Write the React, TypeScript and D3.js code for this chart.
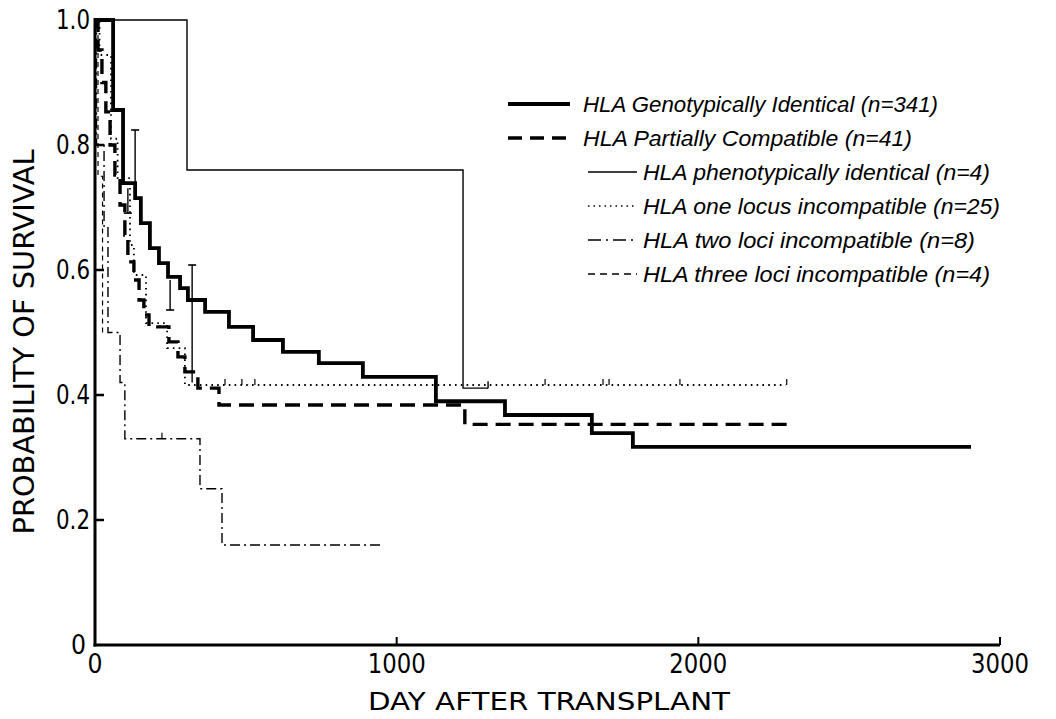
import React from "react";
import * as d3 from "d3";

// ---- Data (day after transplant, probability of survival) ----
const genoDays = [0, 60, 93, 133, 152, 182, 212, 242, 282, 308, 365, 444, 524, 623, 742, 888, 1130, 1359, 1647, 1783, 2904];
const genoProb = [1.0, 0.856, 0.739, 0.715, 0.675, 0.635, 0.611, 0.589, 0.571, 0.552, 0.533, 0.509, 0.488, 0.469, 0.451, 0.429, 0.39, 0.368, 0.339, 0.317, 0.317];

const partDays = [0, 10, 23, 36, 50, 66, 83, 99, 109, 129, 146, 162, 179, 245, 275, 298, 341, 411, 1226, 2304];
const partProb = [1.0, 0.952, 0.9, 0.853, 0.8, 0.752, 0.704, 0.656, 0.613, 0.584, 0.552, 0.528, 0.509, 0.485, 0.461, 0.437, 0.411, 0.384, 0.353, 0.353];

const phenoDays = [0, 305, 1220, 1303];
const phenoProb = [1.0, 0.76, 0.411, 0.411];

const oneDays = [0, 15, 53, 75, 116, 129, 169, 239, 298, 2290];
const oneProb = [1.0, 0.944, 0.81, 0.747, 0.64, 0.592, 0.515, 0.475, 0.416, 0.416];

const twoDays = [0, 5, 30, 43, 83, 99, 348, 421, 958];
const twoProb = [1.0, 0.8, 0.67, 0.5, 0.42, 0.33, 0.25, 0.16, 0.16];

const threeDays = [0, 10, 25, 35];
const threeProb = [1.0, 0.75, 0.5, 0.5];

// censoring ticks
const oneCensorDays = [431, 487, 530, 1492, 1684, 1704, 1939, 2293];
const twoCensorDays = [222];
const phenoCensorDays = [1303];

// error bars: day, low, high, cap at "top" or "bottom"
const errDays = [133, 322, 109, 249];
const errLow = [0.739, 0.42, 0.691, 0.536];
const errHigh = [0.824, 0.608, 0.731, 0.584];
const errCap = ["top", "top", "bottom", "bottom"];

const xTicks = [0, 1000, 2000, 3000];
const yTicks = [0, 0.2, 0.4, 0.6, 0.8, 1.0];
const yTickLabels = ["0", "0.2", "0.4", "0.6", "0.8", "1.0"];

const legendNames = [
  "HLA Genotypically Identical (n=341)",
  "HLA Partially Compatible (n=41)",
  "HLA phenotypically identical (n=4)",
  "HLA one locus incompatible (n=25)",
  "HLA two loci incompatible (n=8)",
  "HLA three loci incompatible (n=4)",
];

const W = 1056;
const H = 719;

export default function App() {
  const x = d3.scaleLinear().domain([0, 3000]).range([95, 1000]);
  const y = d3.scaleLinear().domain([0, 1]).range([645, 20]);
  const line = d3
    .line<[number, number]>()
    .x((d) => x(d[0]))
    .y((d) => y(d[1]))
    .curve(d3.curveStepAfter);
  const pts = (ds: number[], ps: number[]) => ds.map((d, i) => [d, ps[i]] as [number, number]);

  const series = [
    { d: pts(genoDays, genoProb), sw: 3.8, dash: "", lw: 3.8, ldash: "" },
    { d: pts(partDays, partProb), sw: 3.4, dash: "15 8", lw: 3.4, ldash: "14 8" },
    { d: pts(phenoDays, phenoProb), sw: 1.4, dash: "", lw: 1.4, ldash: "" },
    { d: pts(oneDays, oneProb), sw: 1.8, dash: "1.6 4.2", lw: 1.6, ldash: "1.5 4" },
    { d: pts(twoDays, twoProb), sw: 1.4, dash: "10 4 2 4", lw: 1.4, ldash: "13 5 2 5" },
    { d: pts(threeDays, threeProb), sw: 1.2, dash: "5 4", lw: 1.3, ldash: "7 5" },
  ];

  const legendY = [104, 138, 172, 206, 240, 274];
  const legendX1 = [508, 508, 588, 588, 588, 588];
  const legendX2 = [570, 570, 637, 637, 637, 637];
  const legendTX = [583, 583, 643, 643, 643, 643];
  const legendTL = [355, 329, 347, 357, 332, 347];

  const font = "'Liberation Sans', Arial, sans-serif";

  return (
    <svg
      width={W}
      height={H}
      style={{ position: "absolute", left: 0, top: 0, background: "#fff" }}
      fontFamily={font}
    >
      <rect x={0} y={0} width={W} height={H} fill="#fff" />

      {/* axes */}
      <line x1={x(0)} x2={x(0)} y1={y(1) - 2} y2={y(0) + 1.5} stroke="#000" strokeWidth={3} />
      <line x1={x(0) - 1.5} x2={x(3000)} y1={y(0)} y2={y(0)} stroke="#000" strokeWidth={3} />
      {yTicks.map((t, i) => (
        <g key={"yt" + i}>
          {t > 0 && (
            <line x1={x(0)} x2={x(0) + 9} y1={y(t)} y2={y(t)} stroke="#000" strokeWidth={2.5} />
          )}
          <text
            x={t === 0 ? 86 : 90}
            y={y(t) + 9}
            textAnchor="end"
            fontSize={27}
            fontFamily="'DejaVu Sans', sans-serif"
            textLength={t === 0 ? 15 : 34}
            lengthAdjust="spacingAndGlyphs"
          >
            {yTickLabels[i]}
          </text>
        </g>
      ))}
      {xTicks.map((t, i) => (
        <g key={"xt" + i}>
          {t > 0 && <line x1={x(t)} x2={x(t)} y1={y(0)} y2={y(0) - 8} stroke="#000" strokeWidth={2} />}
          <text
            x={x(t)}
            y={y(0) + 28}
            textAnchor="middle"
            fontSize={27}
            fontFamily="'DejaVu Sans', sans-serif"
            textLength={t === 0 ? 15 : 58}
            lengthAdjust="spacingAndGlyphs"
          >
            {t}
          </text>
        </g>
      ))}
      <text
        x={549}
        y={710}
        textAnchor="middle"
        fontSize={25}
        fontFamily="'DejaVu Sans', sans-serif"
        textLength={362}
        lengthAdjust="spacingAndGlyphs"
      >
        DAY AFTER TRANSPLANT
      </text>
      <text
        transform={`translate(34, 342) rotate(-90)`}
        textAnchor="middle"
        fontSize={28}
        fontFamily="'DejaVu Sans', sans-serif"
        textLength={385}
        lengthAdjust="spacingAndGlyphs"
      >
        PROBABILITY OF SURVIVAL
      </text>

      {/* curves */}
      {series.map((s, i) => (
        <path
          key={"s" + i}
          d={line(s.d) || ""}
          fill="none"
          stroke="#000"
          strokeWidth={s.sw}
          strokeDasharray={s.dash || undefined}
          strokeLinejoin="miter"
        />
      ))}

      {/* censor ticks */}
      {oneCensorDays.map((d, i) => (
        <line key={"c1" + i} x1={x(d)} x2={x(d)} y1={y(0.416)} y2={y(0.416) - 6} stroke="#000" strokeWidth={1.2} />
      ))}
      {twoCensorDays.map((d, i) => (
        <line key={"c2" + i} x1={x(d)} x2={x(d)} y1={y(0.33)} y2={y(0.33) - 6} stroke="#000" strokeWidth={1.2} />
      ))}
      {phenoCensorDays.map((d, i) => (
        <line key={"c3" + i} x1={x(d)} x2={x(d)} y1={y(0.411)} y2={y(0.411) - 7} stroke="#000" strokeWidth={1.4} />
      ))}

      {/* error bars */}
      {errDays.map((d, i) => {
        const capY = errCap[i] === "top" ? y(errHigh[i]) : y(errLow[i]);
        return (
          <g key={"e" + i}>
            <line x1={x(d)} x2={x(d)} y1={y(errLow[i])} y2={y(errHigh[i])} stroke="#000" strokeWidth={1.4} />
            <line x1={x(d) - 4} x2={x(d) + 4} y1={capY} y2={capY} stroke="#000" strokeWidth={1.6} />
          </g>
        );
      })}

      {/* legend */}
      {legendNames.map((n, i) => (
        <g key={"l" + i}>
          <line
            x1={legendX1[i]}
            x2={legendX2[i]}
            y1={legendY[i]}
            y2={legendY[i]}
            stroke="#000"
            strokeWidth={series[i].lw}
            strokeDasharray={series[i].ldash || undefined}
          />
          <text
            x={legendTX[i]}
            y={legendY[i] + 8}
            fontSize={22}
            fontStyle="italic"
            textLength={legendTL[i]}
            lengthAdjust="spacingAndGlyphs"
          >
            {n}
          </text>
        </g>
      ))}
    </svg>
  );
}
